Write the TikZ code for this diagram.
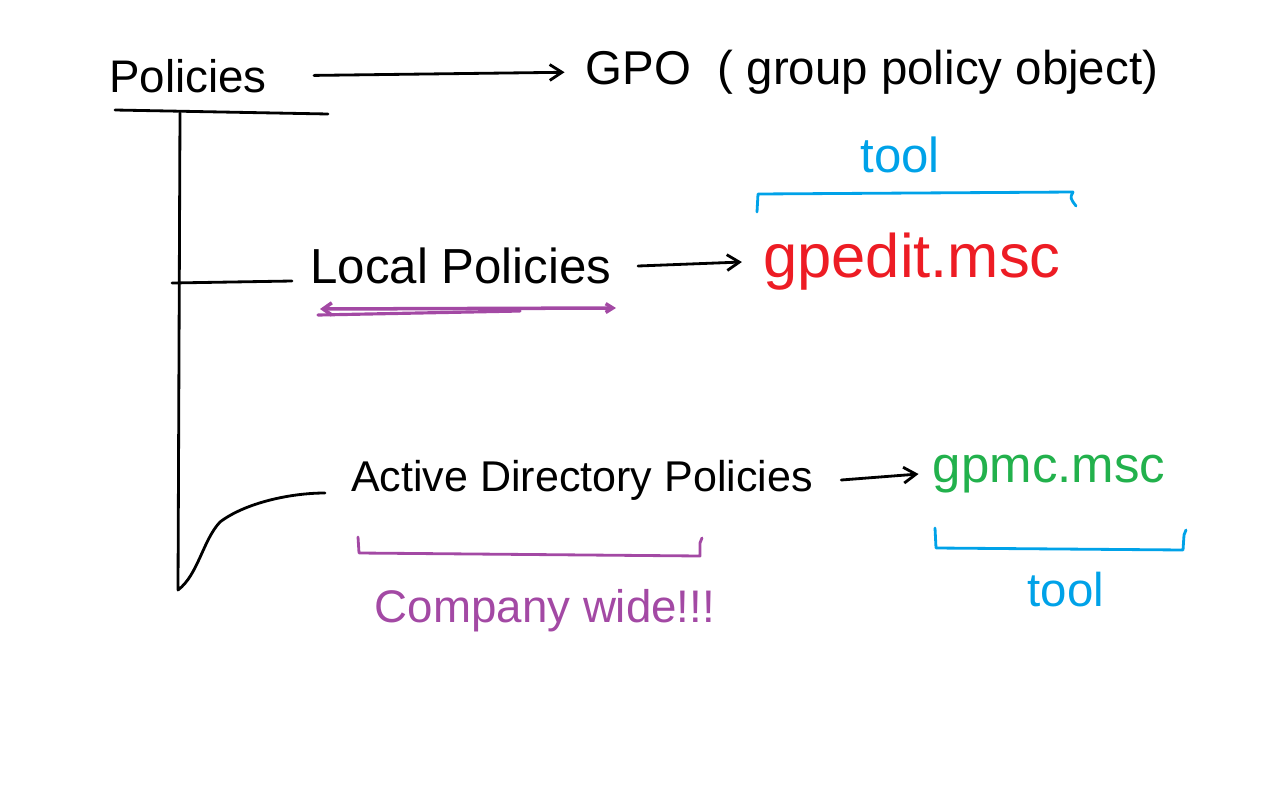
\documentclass[tikz,border=0pt]{standalone}
\usepackage{fontspec}
\setmainfont{Liberation Sans}
\usetikzlibrary{arrows.meta}
\definecolor{inkblue}{RGB}{0,162,232}
\definecolor{inkred}{RGB}{237,28,36}
\definecolor{inkgreen}{RGB}{34,177,76}
\definecolor{inkpurple}{RGB}{163,73,164}
\tikzset{
  ink/.style={line width=1.6pt, line cap=round, line join=round},
  arr/.style={ink, -{Straight Barb[length=7pt,width=9pt]}},
  lbl/.style={inner sep=0pt, anchor=center},
}
\begin{document}
\begin{tikzpicture}[x=0.02cm, y=-0.02cm]
\useasboundingbox (0,0) rectangle (1272,805);
% texts
\node[lbl, font=\fontsize{26}{30}\selectfont] (policies) at (188,76) {Policies};
\node[lbl, font=\fontsize{27}{31}\selectfont] (gpo) at (872,72) {GPO\ \ ( group policy object)};
\node[lbl, font=\fontsize{28}{32}\selectfont, text=inkblue] (tool1) at (900,155) {tool};
\node[lbl, font=\fontsize{28}{32}\selectfont] (local) at (461,266) {Local Policies};
\node[lbl, font=\fontsize{35}{40}\selectfont, text=inkred] (gpedit) at (912,262) {gpedit.msc};
\node[lbl, font=\fontsize{24.5}{29}\selectfont] (ad) at (582,480) {Active Directory Policies};
\node[lbl, font=\fontsize{29}{33}\selectfont, text=inkgreen] (gpmc) at (1049,474) {gpmc.msc};
\node[lbl, font=\fontsize{27}{31}\selectfont, text=inkblue] (tool2) at (1066,590) {tool};
\node[lbl, font=\fontsize{26}{30}\selectfont, text=inkpurple] (company) at (545,611) {Company wide!!!};
% coordinates
\coordinate (ul1) at (115,110);
\coordinate (ul2) at (328,114);
\coordinate (trunktop) at (180,113);
\coordinate (trunkbot) at (178,590);
\coordinate (lbr1) at (172,283);
\coordinate (lbr2) at (292,281);
\coordinate (adbr) at (325,493);
% underline and tree
\draw[ink] (ul1) -- (ul2);
\draw[ink] (trunktop) -- (trunkbot) .. controls (198,575) and (203,540) .. (220,522) .. controls (245,503) and (290,493) .. (adbr);
\draw[ink] (lbr1) -- (lbr2);
% arrows
\draw[arr, shorten <=0.94cm, shorten >=0.42cm] (policies.east) -- (gpo.west);
\draw[arr] ([xshift=15pt]local.east) -- ([xshift=-12pt]gpedit.west);
\draw[arr] ([xshift=16pt]ad.east) -- ([xshift=-8pt]gpmc.west);
% purple double stroke
\draw[ink, inkpurple, line width=2pt, {Straight Barb[length=5pt,width=7pt]}-{Straight Barb[length=4pt,width=5pt]}] (320,309) -- (616,308);
\draw[ink, inkpurple, line width=1.8pt] (318,315) -- (520,311);
% brackets
\draw[ink, inkblue] (757,212) -- (758,194) -- (1073,192) .. controls (1070,198) .. (1076,206);
\draw[ink, inkpurple] (358,537) -- (359,553) -- (700,556) -- (700,543) -- (702,538);
\draw[ink, inkblue] (935,528) -- (936,548) -- (1183,550) -- (1184,535) -- (1186,530);
\end{tikzpicture}
\end{document}
